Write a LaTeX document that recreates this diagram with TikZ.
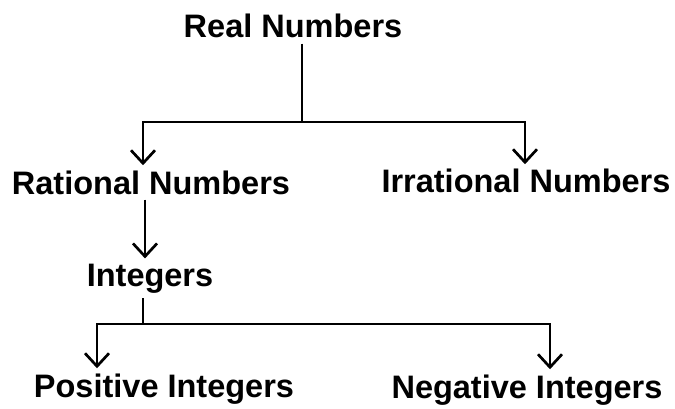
\documentclass[tikz,border=0pt]{standalone}
\usepackage{fontspec}
\setmainfont{Liberation Sans}
\usetikzlibrary{arrows.meta,positioning,calc}
\tikzset{
  numnode/.style={font=\fontsize{32.5}{36}\selectfont\bfseries, inner xsep=0pt, inner ysep=5pt, anchor=base},
  link/.style={line width=2.7pt},
  down/.style={link, -{Straight Barb[length=13pt,width=24pt,line width=2.7pt]}},
}
\begin{document}
\begin{tikzpicture}[x=1pt,y=-1pt]
  \useasboundingbox (0,0) rectangle (675,409);
  % level 1 and 2
  \node[numnode] (real) at (293,38) {Real Numbers};
  \node[numnode] (rational) at (151,194) {Rational Numbers};
  \node[numnode] (irrational) at (526,193) {Irrational Numbers};
  % level 3 and 4
  \node[numnode] (integers) at (150,286) {Integers};
  \node[numnode] (positive) at (164,397) {Positive Integers};
  \node[numnode] (negative) at (527,398) {Negative Integers};
  \coordinate (splitA) at (302,122);
  \coordinate (splitB) at (143,324);
  \draw[link] (real.south -| splitA) -- (splitA);
  \draw[down] (splitA) -| ([xshift=-8pt]rational.north);
  \draw[down] (splitA) -| ([xshift=-1pt]irrational.north);
  \draw[down] ([xshift=-6pt]rational.south) -- ([xshift=-5pt]integers.north);
  \draw[link] (integers.south -| splitB) -- (splitB);
  \draw[down] (splitB) -| ([xshift=-67pt]positive.north);
  \draw[down] (splitB) -| ([xshift=23pt]negative.north);
\end{tikzpicture}
\end{document}
